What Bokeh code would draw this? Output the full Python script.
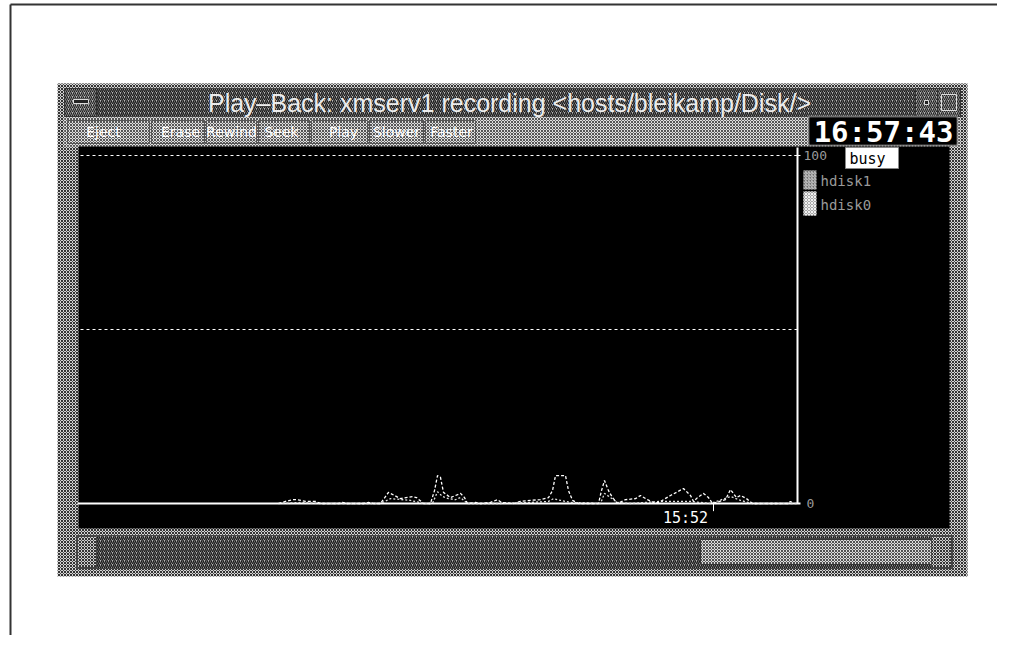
from bokeh.plotting import figure
from bokeh.models import Range1d, ColumnDataSource
from bokeh.core.properties import value
from bokeh.embed import file_html
from bokeh.resources import INLINE

# ---------------- data ----------------
# time: seconds after 15:40:00 ; busy: percent
hdisk0_t = [285, 292, 299, 304, 312, 322, 327, 345, 349, 353, 370, 375, 380, 387, 395, 407,
            419, 423, 430, 437, 441, 444, 447, 450, 457, 467, 471, 474, 482, 487, 497, 504,
            508, 520, 527, 537, 547, 555, 559, 562, 572, 575, 579, 585, 605, 608, 611, 615,
            619, 624, 632, 642, 647, 654, 662, 667, 677, 690, 697, 700, 704, 710, 715, 719,
            732, 737, 743, 747, 753, 759, 794, 797, 800]
hdisk0_busy = [0, 0.6, 1.1, 1.1, 0.6, 0.6, 0, 0, 0.3, 0, 0, 0.3, 0, 0, 3.2, 1.4,
               2.0, 1.7, 0, 0, 3.7, 8.0, 7.5, 3.2, 1.7, 2.9, 1.7, 0, 0.3, 0, 0.3, 1.1,
               0.3, 0, 0.6, 0.9, 1.1, 1.7, 3.7, 8.0, 8.0, 3.7, 0.9, 0, 0, 3.7, 6.6, 3.7,
               1.7, 0, 1.1, 1.4, 2.3, 1.1, 0, 0.6, 2.3, 4.3, 2.3, 0.6, 1.7, 2.9, 1.7, 0,
               1.1, 4.0, 1.7, 2.3, 1.4, 0, 0, 0.6, 0]
hdisk1_t = [285, 307, 327, 387, 397, 417, 430, 439, 444, 449, 455, 462, 467, 474, 507, 537,
            555, 560, 567, 577, 607, 611, 617, 624, 637, 667, 697, 717, 737, 747, 759, 804]
hdisk1_busy = [0, 0.3, 0, 0, 1.4, 0.9, 0, 0, 3.4, 2.0, 1.4, 1.1, 1.7, 0, 0, 0.3,
               0.6, 1.4, 0.9, 0.3, 0, 2.9, 1.7, 0.3, 0, 0.6, 0.6, 0, 2.0, 0.9, 0, 0]

grid_levels = [100, 50]
y_labels = ["100", "0"]
time_tick = [720]
time_tick_labels = ["15:52"]
legend_names = ["hdisk1", "hdisk0"]
metric_name = "busy"
buttons = ["Eject", "Erase", "Rewind", "Seek", "Play", "Slower", "Faster"]
title_text = "Play\u2013Back: xmserv1 recording <hosts/bleikamp/Disk/>"
clock_text = "16:57:43"

# ---------------- layout constants (image pixels) ----------------
W, H = 997, 635
OX, OY = 0, 0
T_LEFT, T_RIGHT = 85, 804          # time at plot left edge / right axis
PX_LEFT, PX_RIGHT = 78, 797        # image x of those
PY_ZERO, PY_HUNDRED = 503, 155     # image y of 0% and 100%

sx = (PX_RIGHT - PX_LEFT) / (T_RIGHT - T_LEFT)
t_start = T_LEFT - (PX_LEFT - OX) / sx
t_end = T_LEFT + (OX + W - PX_LEFT) / sx
sy = (PY_ZERO - PY_HUNDRED) / 100.0
v_start = -((OY + H) - PY_ZERO) / sy
v_end = (PY_ZERO - OY) / sy

p = figure(width=W, height=H, output_backend="svg", toolbar_location=None,
           x_range=Range1d(OX, OX + W), y_range=Range1d(OY + H, OY),
           min_border=0, outline_line_color=None)
p.axis.visible = False
p.grid.visible = False
p.background_fill_color = "white"
p.border_fill_color = "white"
p.extra_x_ranges = {"time": Range1d(t_start, t_end)}
p.extra_y_ranges = {"pct": Range1d(v_start, v_end)}

MONO = value("DejaVu Sans Mono")

# outer document frame
p.line([10, 10], [4, 640], line_color="#333333", line_width=2)
p.line([10, 1000], [4, 4], line_color="#333333", line_width=2)

def stipple(l, r, t, b, fill="#d0d0d0", hatch="x", hc="#3c3c3c", scale=3.0, hw=1.0, lc=None):
    p.quad(left=l, right=r, top=t, bottom=b, fill_color=fill, line_color=lc,
           hatch_pattern=hatch, hatch_color=hc, hatch_scale=scale, hatch_weight=hw)

# window body
stipple(57, 967, 83, 576, fill="#d4d4d4", hc="#333333")
# title bar
stipple(64, 960, 88, 116, fill="#b4b4b4", hatch="/", hc="#1a1a1a", scale=4, hw=1.4, lc="#444444")
# title bar buttons
stipple(64, 96, 88, 116, fill="#b4b4b4", hatch="/", hc="#222222", scale=4, hw=1.2, lc="#333333")
p.quad(left=73, right=88, top=99, bottom=103, fill_color="#222222", line_color="#dddddd")
stipple(915, 937, 88, 116, fill="#b4b4b4", hatch="/", hc="#222222", scale=4, hw=1.2, lc="#333333")
stipple(937, 960, 88, 116, fill="#b4b4b4", hatch="/", hc="#222222", scale=4, hw=1.2, lc="#333333")
p.quad(left=924, right=928, top=100, bottom=104, fill_color="#222222", line_color="#dddddd")
p.quad(left=941, right=956, top=94, bottom=110, fill_color=None, line_color="#dddddd")
p.text(x=[509], y=[102], text=[title_text], text_align="center", text_baseline="middle",
       text_font=value("Liberation Sans"), text_font_size="25px", text_color="#ececec")

# button bar
stipple(64, 960, 117, 146, fill="#e0e0e0", hatch="x", hc="#555555")
btn_x = [103, 180, 231, 281, 343, 396, 451]
btn_edges = [66, 150, 205, 257, 310, 368, 424, 476]
for i in range(len(buttons)):
    p.quad(left=btn_edges[i] + 1, right=btn_edges[i + 1] - 1, top=120, bottom=143,
           fill_color=None, line_color="#555555", line_width=1)
p.text(x=btn_x, y=[131] * len(buttons), text=buttons, text_align="center", text_baseline="middle",
       text_font=value("DejaVu Sans"), text_font_size="14px", text_color="#ffffff")

# clock
p.quad(left=808, right=957, top=116, bottom=145, fill_color="black", line_color="#bbbbbb",
       line_dash="1 1", line_width=2)
p.text(x=[883], y=[131], text=[clock_text], text_align="center", text_baseline="middle",
       text_font=MONO, text_font_size="29px", text_font_style="bold", text_color="white")

# plot area
p.quad(left=78, right=949, top=146, bottom=528, fill_color="black", line_color=None)

# scrollbar
stipple(76, 952, 535, 568, fill="#b4b4b4", hatch="/", hc="#1a1a1a", scale=4, hw=1.4, lc="#444444")
stipple(77, 96, 536, 567, fill="#d0d0d0", hatch="x", hc="#333333", lc="#444444")
stipple(700, 931, 539, 564, fill="#dedede", hatch="x", hc="#505050", lc="#333333")
stipple(931, 951, 536, 567, fill="#d0d0d0", hatch="x", hc="#333333", lc="#444444")

# ---------------- chart (data coordinates) ----------------
kw = dict(x_range_name="time", y_range_name="pct")
plot_top_v = (PY_ZERO - 147) / sy
# gridlines
p.segment(x0=[T_LEFT + 2] * len(grid_levels), x1=[T_RIGHT] * len(grid_levels),
          y0=grid_levels, y1=grid_levels, line_color="white", line_dash="3 3", line_width=1, **kw)
# baseline and right axis
p.segment(x0=[T_LEFT - 1], x1=[T_RIGHT + 3], y0=[0], y1=[0], line_color="white", line_width=2, **kw)
p.segment(x0=[T_RIGHT], x1=[T_RIGHT], y0=[0], y1=[plot_top_v], line_color="white", line_width=2, **kw)
p.segment(x0=[T_RIGHT - 3], x1=[T_RIGHT + 3], y0=[100, 50], y1=[100, 50], line_color="white", line_width=1, **kw)
# time tick
p.segment(x0=time_tick, x1=time_tick, y0=[0] * len(time_tick), y1=[-2.2] * len(time_tick),
          line_color="white", line_width=1, **kw)
p.text(x=[t - 28 for t in time_tick], y=[-4.2] * len(time_tick), text=time_tick_labels,
       text_align="center", text_baseline="middle", text_font=MONO, text_font_size="15px",
       text_color="white", **kw)
# y labels
p.text(x=[T_RIGHT + 6, T_RIGHT + 9], y=[100, 0], text=y_labels, text_align="left",
       text_baseline="middle", text_font=MONO, text_font_size="13px", text_color="#9a9a9a", **kw)

# series
src0 = ColumnDataSource(dict(t=hdisk0_t, v=hdisk0_busy))
src1 = ColumnDataSource(dict(t=hdisk1_t, v=hdisk1_busy))
p.line("t", "v", source=src1, line_color="#e0e0e0", line_dash="2 2", line_width=1.3, **kw)
p.line("t", "v", source=src0, line_color="white", line_dash="3 2", line_width=1.3, **kw)

# legend panel
p.quad(left=845, right=898, top=147, bottom=168, fill_color="white", line_color="#888888")
p.text(x=[849], y=[158], text=[metric_name], text_align="left", text_baseline="middle",
       text_font=MONO, text_font_size="15px", text_color="black")
stipple(803, 816, 170, 189, fill="#707070", hatch="/", hc="#cfcfcf", scale=3, hw=1)
stipple(803, 816, 191, 215, fill="#a8a8a8", hatch="x", hc="#f0f0f0", scale=3, hw=1)
p.text(x=[820, 820], y=[180, 204], text=legend_names, text_align="left", text_baseline="middle",
       text_font=MONO, text_font_size="14px", text_color="#9a9a9a")

open("out.html", "w").write(file_html(p, INLINE))
